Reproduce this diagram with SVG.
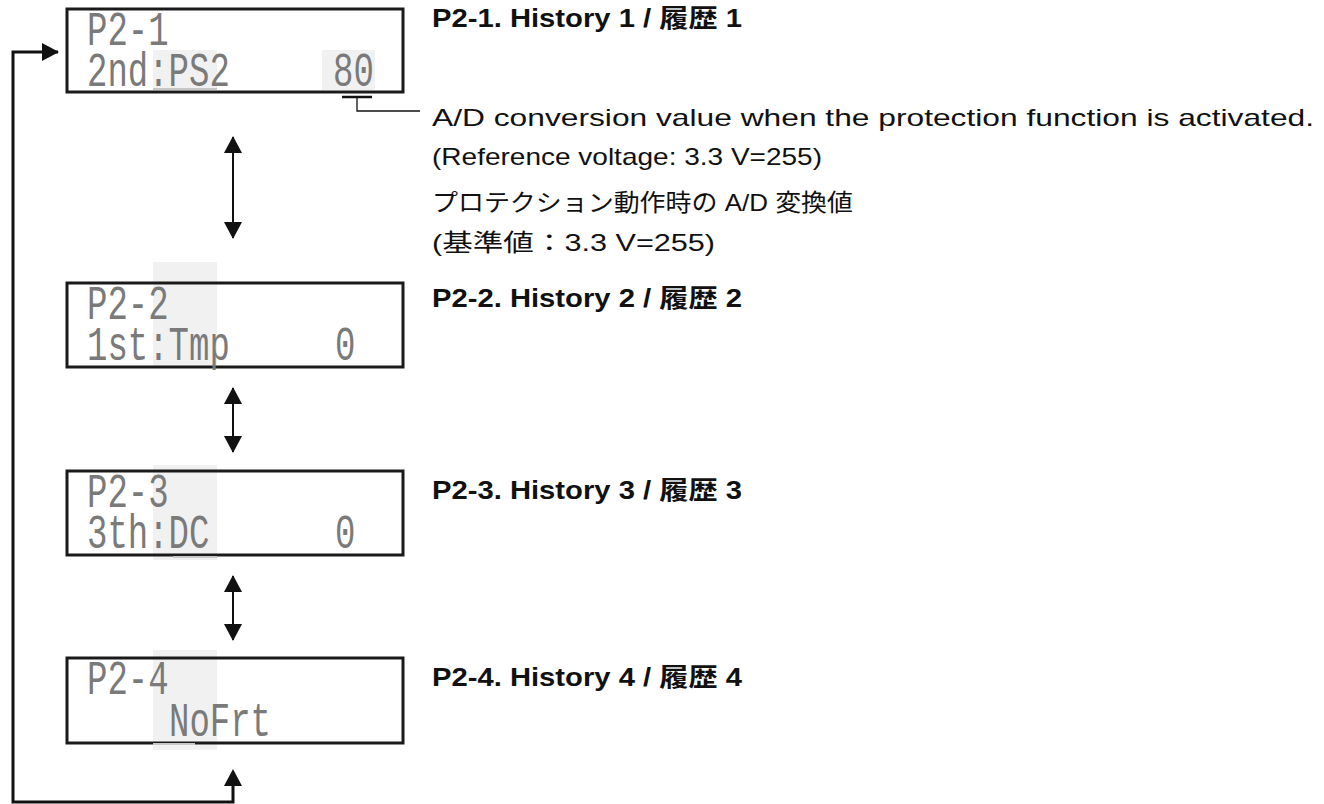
<svg xmlns="http://www.w3.org/2000/svg" width="1324" height="804" viewBox="0 0 1324 804">
<defs>
<style>
.box{fill:none;stroke:#1a1a1a;stroke-width:3}
.hl{fill:#f1f1f1}
.ul{stroke:#c8c8c8;stroke-width:2}
.lcd{font-family:"Liberation Mono","DejaVu Sans Mono",monospace;font-size:34px;fill:#7a7a7a}
.ttl{font-family:"Liberation Sans","Noto Sans CJK JP",sans-serif;font-size:25px;font-weight:bold;fill:#111}
.txt{font-family:"Liberation Sans","Noto Sans CJK JP",sans-serif;font-size:24px;fill:#111}
.ln{fill:none;stroke:#111;stroke-width:2}
</style>
<marker id="ah" viewBox="0 0 17 18" refX="16" refY="9" markerWidth="17" markerHeight="18" markerUnits="userSpaceOnUse" orient="auto-start-reverse">
<path d="M0,0 L17,9 L0,18 z" fill="#111"/>
</marker>
</defs>
<rect width="1324" height="804" fill="#fff"/>

<g id="node-p2-1">
<rect class="hl" x="153" y="50" width="64" height="40"/>
<rect class="hl" x="322" y="50" width="53" height="40"/>
<line class="ul" x1="153" y1="89" x2="217" y2="89"/>
<rect class="box" x="67" y="9" width="336" height="83"/>
<g transform="translate(87,45) scale(1,1.42)"><text class="lcd" x="0" y="0">P2-1</text></g>
<g transform="translate(87,86) scale(1,1.42)"><text class="lcd" x="0" y="0">2nd:PS2</text></g>
<g transform="translate(333,86) scale(1,1.42)"><text class="lcd" x="0" y="0">80</text></g>
</g>

<g id="node-p2-2">
<rect class="hl" x="153" y="262" width="64" height="106"/>
<rect class="box" x="67" y="283" width="336" height="84"/>
<g transform="translate(87,319) scale(1,1.42)"><text class="lcd" x="0" y="0">P2-2</text></g>
<g transform="translate(87,360) scale(1,1.42)"><text class="lcd" x="0" y="0">1st:Tmp</text></g>
<g transform="translate(335,360) scale(1,1.42)"><text class="lcd" x="0" y="0">0</text></g>
</g>

<g id="node-p2-3">
<rect class="hl" x="153" y="465" width="64" height="95"/>
<rect class="box" x="67" y="471" width="336" height="84"/>
<line class="ul" x1="173" y1="557" x2="217" y2="557"/>
<g transform="translate(87,507) scale(1,1.42)"><text class="lcd" x="0" y="0">P2-3</text></g>
<g transform="translate(87,548) scale(1,1.42)"><text class="lcd" x="0" y="0">3th:DC</text></g>
<g transform="translate(335,548) scale(1,1.42)"><text class="lcd" x="0" y="0">0</text></g>
</g>

<g id="node-p2-4">
<rect class="hl" x="153" y="650" width="64" height="100"/>
<rect class="box" x="67" y="658" width="336" height="85"/>
<line class="ul" x1="153" y1="744" x2="195" y2="744"/>
<g transform="translate(87,694) scale(1,1.42)"><text class="lcd" x="0" y="0">P2-4</text></g>
<g transform="translate(169,736) scale(1,1.42)"><text class="lcd" x="0" y="0">NoFrt</text></g>
</g>

<g id="labels">
<text class="ttl" x="432" y="27" textLength="310" lengthAdjust="spacingAndGlyphs">P2-1. History 1 / 履歴 1</text>
<text class="txt" x="432" y="126" textLength="882" lengthAdjust="spacingAndGlyphs">A/D conversion value when the protection function is activated.</text>
<text class="txt" x="432" y="165" textLength="390" lengthAdjust="spacingAndGlyphs">(Reference voltage: 3.3 V=255)</text>
<text class="txt" x="432" y="211" textLength="421" lengthAdjust="spacingAndGlyphs">プロテクション動作時の A/D 変換値</text>
<text class="txt" x="432" y="251" textLength="283" lengthAdjust="spacingAndGlyphs">(基準値：3.3 V=255)</text>
<text class="ttl" x="432" y="307" textLength="310" lengthAdjust="spacingAndGlyphs">P2-2. History 2 / 履歴 2</text>
<text class="ttl" x="432" y="499" textLength="310" lengthAdjust="spacingAndGlyphs">P2-3. History 3 / 履歴 3</text>
<text class="ttl" x="432" y="686" textLength="310" lengthAdjust="spacingAndGlyphs">P2-4. History 4 / 履歴 4</text>
</g>

<g id="connectors">
<line class="ln" x1="233" y1="137" x2="233" y2="238" marker-start="url(#ah)" marker-end="url(#ah)"/>
<line class="ln" x1="233" y1="388" x2="233" y2="452" marker-start="url(#ah)" marker-end="url(#ah)"/>
<line class="ln" x1="233" y1="576" x2="233" y2="640" marker-start="url(#ah)" marker-end="url(#ah)"/>
<polyline class="ln" points="233,785 233,802 13,802 13,52 58,52" marker-end="url(#ah)" style="stroke-width:3"/>
<path d="M224,786 L233,769 L242,786 z" fill="#111"/>
<line x1="342" y1="97" x2="372" y2="97" stroke="#111" stroke-width="2.5"/>
<polyline points="357,97 357,111 420,111" fill="none" stroke="#111" stroke-width="1.3"/>
</g>
</svg>
